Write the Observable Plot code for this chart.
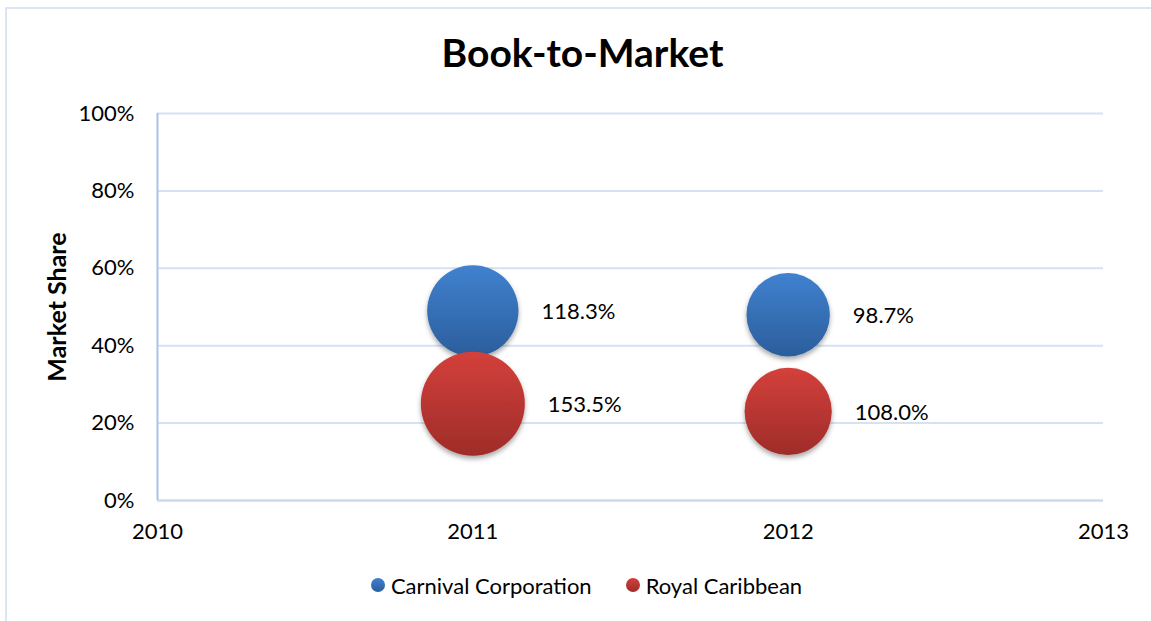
<!DOCTYPE html>
<html>
<head>
<meta charset="utf-8">
<script src="https://cdn.jsdelivr.net/npm/d3@7"></script>
<script src="https://cdn.jsdelivr.net/npm/@observablehq/plot@0.6"></script>
<style>
  html, body { margin: 0; padding: 0; background: #fff; }
  #wrap { position: relative; width: 1151px; height: 621px; overflow: hidden; font-family: Lato, "Open Sans", sans-serif; }
  #border { position: absolute; left: 5px; top: 7px; width: 1300px; height: 800px; border-top: 2px solid #dbe5f4; border-left: 2px solid #dbe5f4; }
  #title { position: absolute; left: 0; top: 33px; width: 1165px; text-align: center; font-weight: bold; font-size: 39px; line-height: 39px; color: #000; }
  #chart { position: absolute; left: 0; top: 90px; }
  #legend { position: absolute; left: 0; top: 555px; width: 1173px; height: 60px; display: flex; justify-content: center; align-items: center; font-size: 22px; color: #000; }
  .item { display: flex; align-items: center; margin: 0 17px; }
  .swatch { width: 14px; height: 14px; border-radius: 50%; margin-right: 6px; }
</style>
</head>
<body>
<div id="wrap">
  <div id="border"></div>
  <div id="title"></div>
  <div id="chart"></div>
  <div id="legend"></div>
</div>
<script>
// ---- data ----
const chartTitle = "Book-to-Market";
const yAxisTitle = "Market Share";
const seriesNames = ["Carnival Corporation", "Royal Caribbean"];
const years = [2011, 2012];
const carnivalShare = [0.49, 0.48];
const royalShare = [0.25, 0.23];
const carnivalBookToMarket = [118.3, 98.7];
const royalBookToMarket = [153.5, 108.0];
const xTicks = [2010, 2011, 2012, 2013];
const yTicks = [0, 0.2, 0.4, 0.6, 0.8, 1.0];

// ---- styles ----
const seriesGradients = [
  { id: "gradBlue", top: "#4081cf", bottom: "#2b5e9c" },
  { id: "gradRed", top: "#d4403b", bottom: "#9e2c29" }
];

const rows = [];
years.forEach((yr, i) => {
  rows.push({ series: seriesNames[0], year: yr, share: carnivalShare[i], bm: carnivalBookToMarket[i] });
});
years.forEach((yr, i) => {
  rows.push({ series: seriesNames[1], year: yr, share: royalShare[i], bm: royalBookToMarket[i] });
});

const rDomain = [0, d3.max(rows, d => d.bm)];
const rRange = [0, 52];
const rScale = d3.scaleSqrt().domain(rDomain).range(rRange);

document.getElementById("title").textContent = chartTitle;

const defsMark = () => {
  const defs = d3.create("svg:defs");
  seriesGradients.forEach(g => {
    const lg = defs.append("linearGradient").attr("id", g.id).attr("x1", 0).attr("y1", 0).attr("x2", 0).attr("y2", 1);
    lg.append("stop").attr("offset", "0%").attr("stop-color", g.top);
    lg.append("stop").attr("offset", "100%").attr("stop-color", g.bottom);
  });
  const f = defs.append("filter").attr("id", "bubbleShadow").attr("x", "-30%").attr("y", "-30%").attr("width", "160%").attr("height", "170%");
  f.append("feDropShadow").attr("dx", 0).attr("dy", 3).attr("stdDeviation", 2.5).attr("flood-color", "#000").attr("flood-opacity", 0.35);
  return defs.node();
};

const labelMarks = rows.map(d => Plot.text([d], {
  x: "year", y: "share", text: v => d3.format(".1f")(v.bm) + "%",
  dx: rScale(d.bm) + 23, dy: 1, textAnchor: "start", fontSize: 22, fill: "#000"
}));

const plot = Plot.plot({
  width: 1151,
  height: 465,
  marginLeft: 157,
  marginRight: 48,
  marginTop: 23,
  marginBottom: 55,
  style: { fontFamily: "Lato, 'Open Sans', sans-serif", fontSize: "22px", color: "#000", background: "transparent", overflow: "visible" },
  x: { type: "linear", domain: [xTicks[0], xTicks[xTicks.length - 1]] },
  y: { domain: [yTicks[0], yTicks[yTicks.length - 1]] },
  r: { type: "sqrt", domain: rDomain, range: rRange },
  marks: [
    defsMark,
    Plot.gridY(yTicks, { stroke: "#d5e2f3", strokeOpacity: 1, strokeWidth: 2 }),
    Plot.ruleY([yTicks[0]], { stroke: "#c8d9ef", strokeWidth: 2 }),
    Plot.ruleX([xTicks[0]], { stroke: "#a9c3e7", strokeWidth: 2 }),
    Plot.dot(rows.filter(d => d.series === seriesNames[0]), { x: "year", y: "share", r: "bm", fill: "url(#gradBlue)", stroke: "none" }),
    Plot.dot(rows.filter(d => d.series === seriesNames[1]), { x: "year", y: "share", r: "bm", fill: "url(#gradRed)", stroke: "none" }),
    ...labelMarks,
    Plot.axisY({ ticks: yTicks, tickFormat: d3.format(".0%"), tickSize: 0, tickPadding: 23, label: null, fontSize: 22 }),
    Plot.axisX({ ticks: xTicks, tickFormat: d3.format("d"), tickSize: 0, tickPadding: 23, label: null, fontSize: 22 }),
    Plot.text([yAxisTitle], { frameAnchor: "left", textAnchor: "middle", rotate: -90, dx: -100, fontWeight: "bold", fontSize: 25, fill: "#000" })
  ]
});

plot.querySelectorAll('g[aria-label="dot"] circle').forEach(c => c.setAttribute("filter", "url(#bubbleShadow)"));
document.getElementById("chart").appendChild(plot);

// legend
const legend = document.getElementById("legend");
seriesNames.forEach((name, i) => {
  const item = document.createElement("div");
  item.className = "item";
  const sw = document.createElement("span");
  sw.className = "swatch";
  sw.style.background = `linear-gradient(${seriesGradients[i].top}, ${seriesGradients[i].bottom})`;
  const tx = document.createElement("span");
  tx.textContent = name;
  item.appendChild(sw);
  item.appendChild(tx);
  legend.appendChild(item);
});
</script>
</body>
</html>
